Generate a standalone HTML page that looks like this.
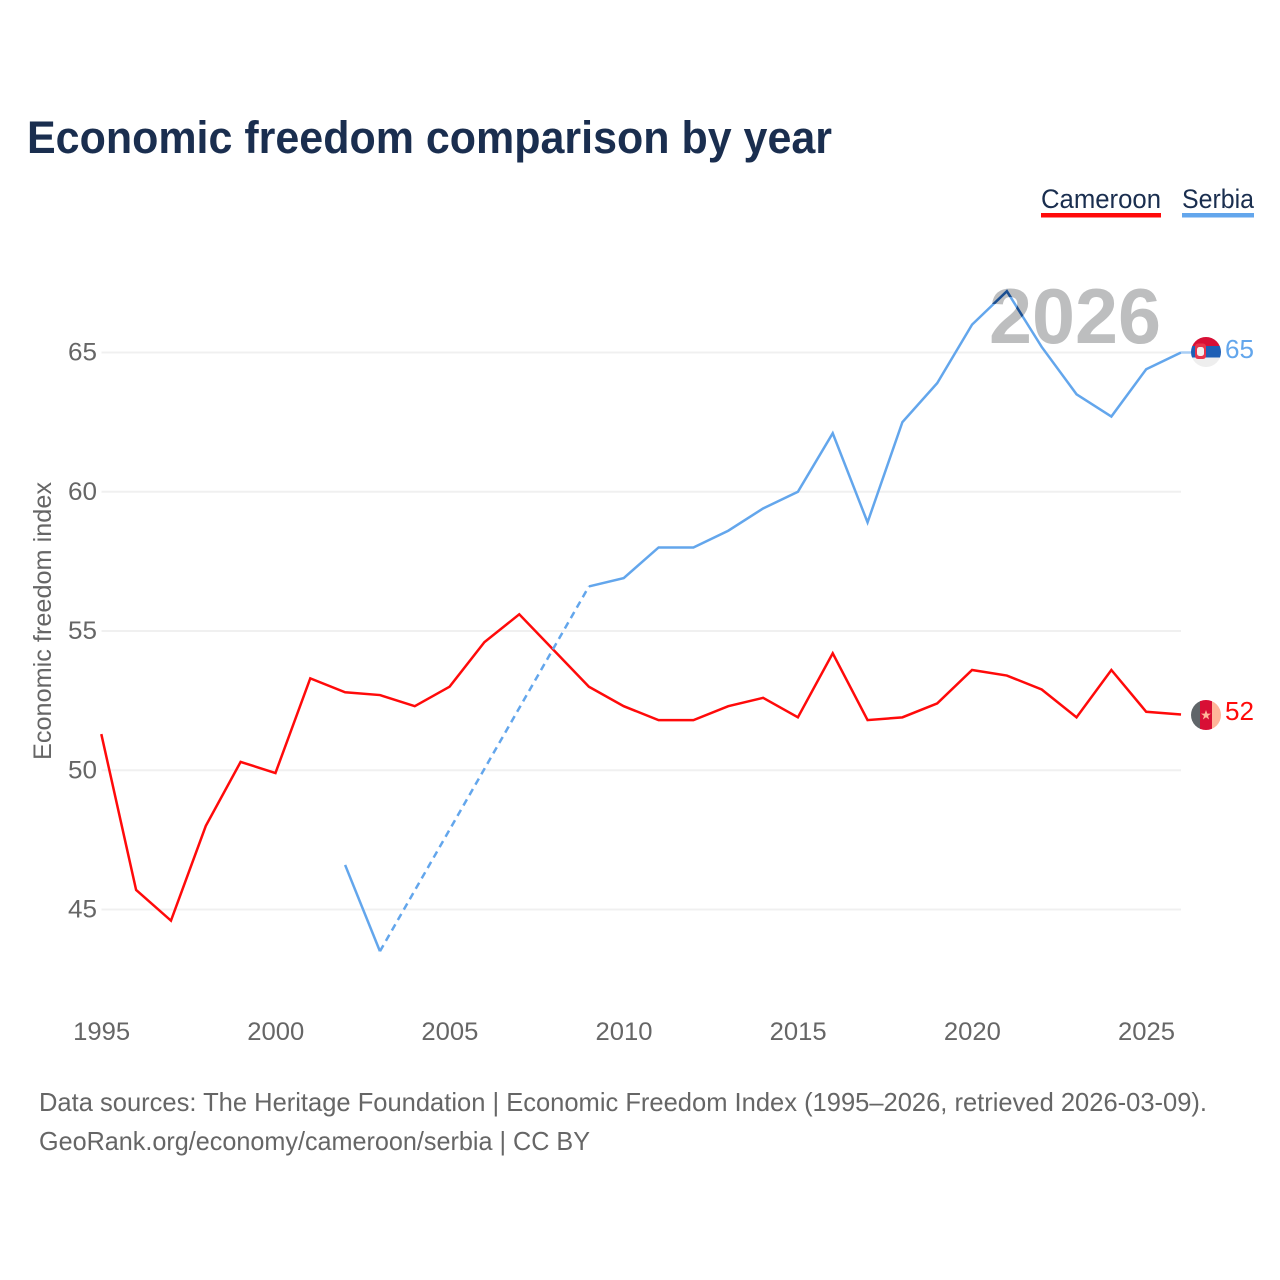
<!DOCTYPE html>
<html lang="en">
<head>
<meta charset="utf-8">
<title>Economic freedom comparison by year</title>
<style>
html,body{margin:0;padding:0;background:#fff;width:1280px;height:1280px;overflow:hidden}
svg{display:block}
text{font-family:"Liberation Sans",sans-serif}
</style>
</head>
<body>
<svg id="chart" xmlns="http://www.w3.org/2000/svg" width="1280" height="1280" viewBox="0 0 1280 1280">
  <defs>
    <clipPath id="serbia-flag-clip"><circle cx="1206" cy="352" r="15"/></clipPath>
    <clipPath id="cameroon-flag-clip"><circle cx="1206" cy="715" r="15"/></clipPath>
    <clipPath id="year-text-clip"><text x="989" y="343" font-size="78" font-weight="700" textLength="172" lengthAdjust="spacingAndGlyphs">2026</text></clipPath>
  </defs>
  <rect x="0" y="0" width="1280" height="1280" fill="#ffffff"/>
  <text x="27" y="153" font-size="45" font-weight="700" fill="#1a2e4f" textLength="805" lengthAdjust="spacingAndGlyphs">Economic freedom comparison by year</text>

  <g>
    <g>
      <text x="1041" y="208" font-size="27" fill="#1a2e4f" textLength="120" lengthAdjust="spacingAndGlyphs">Cameroon</text>
      <rect x="1041" y="213" width="120" height="4.5" fill="#ff0a0a"/>
    </g>
    <g>
      <text x="1182" y="208" font-size="27" fill="#1a2e4f" textLength="72" lengthAdjust="spacingAndGlyphs">Serbia</text>
      <rect x="1182" y="213" width="72" height="4.5" fill="#63a6ec"/>
    </g>
  </g>

  <g id="grid"></g>
  <g id="y-ticks"></g>
  <g id="x-ticks"></g>

  <text transform="translate(51,621) rotate(-90)" text-anchor="middle" font-size="25" fill="#666666" textLength="278" lengthAdjust="spacingAndGlyphs">Economic freedom index</text>

  <text x="989" y="343" font-size="78" font-weight="700" fill="#bdbebf" textLength="172" lengthAdjust="spacingAndGlyphs">2026</text>

  <g id="series"></g>

  <g clip-path="url(#serbia-flag-clip)">
    <rect x="1191" y="337" width="30" height="30" fill="#eeeeee"/>
    <rect x="1191" y="337" width="30" height="9" fill="#d80f35"/>
    <rect x="1191" y="346" width="30" height="11.5" fill="#1e5fb5"/>
    <rect x="1195" y="343.5" width="11" height="15.5" rx="3" fill="#e8344a"/>
    <rect x="1197" y="347" width="7" height="9" rx="2.5" fill="#f4f0ee"/>
  </g>
  <g clip-path="url(#cameroon-flag-clip)">
    <rect x="1191" y="700" width="10" height="30" fill="#5f6569"/>
    <rect x="1200" y="700" width="12" height="30" fill="#d80f35"/>
    <rect x="1212" y="700" width="9" height="30" fill="#ffb59a"/>
    <polygon points="1206,710 1207.3,713.6 1211,713.6 1208,715.9 1209.1,719.5 1206,717.3 1202.9,719.5 1204,715.9 1201,713.6 1204.7,713.6" fill="#ffb59a"/>
  </g>

  <text x="1225" y="358" font-size="26" fill="#63a6ec" textLength="29" lengthAdjust="spacingAndGlyphs">65</text>
  <text x="1225" y="720" font-size="26" fill="#ff0a0a" textLength="29" lengthAdjust="spacingAndGlyphs">52</text>

  <text x="39" y="1111" font-size="26" fill="#666666" textLength="1168" lengthAdjust="spacingAndGlyphs">Data sources: The Heritage Foundation | Economic Freedom Index (1995–2026, retrieved 2026-03-09).</text>
  <text x="39" y="1150" font-size="26" fill="#666666" textLength="551" lengthAdjust="spacingAndGlyphs">GeoRank.org/economy/cameroon/serbia | CC BY</text>
</svg>
<script>
const years = [1995,1996,1997,1998,1999,2000,2001,2002,2003,2004,2005,2006,2007,2008,2009,2010,2011,2012,2013,2014,2015,2016,2017,2018,2019,2020,2021,2022,2023,2024,2025,2026];
const cameroonValues = [51.3,45.7,44.6,48.0,50.3,49.9,53.3,52.8,52.7,52.3,53.0,54.6,55.6,54.3,53.0,52.3,51.8,51.8,52.3,52.6,51.9,54.2,51.8,51.9,52.4,53.6,53.4,52.9,51.9,53.6,52.1,52.0];
const serbiaValues = [null,null,null,null,null,null,null,46.6,43.5,null,null,null,null,null,56.6,56.9,58.0,58.0,58.6,59.4,60.0,62.1,58.9,62.5,63.9,66.0,67.2,65.2,63.5,62.7,64.4,65.0];
const yTickValues = [45,50,55,60,65];
const xTickValues = [1995,2000,2005,2010,2015,2020,2025];

const NS = 'http://www.w3.org/2000/svg';
function xScale(year){ return 101.3 + (year - 1995) * 34.83; }
function yScale(value){ return 909.5 - (value - 45) * 27.85; }
function make(tag, attrs, parent){
  const node = document.createElementNS(NS, tag);
  for (const key in attrs) node.setAttribute(key, attrs[key]);
  parent.appendChild(node);
  return node;
}
function pointsFor(values, from, to){
  const out = [];
  for (let i = from; i <= to; i++) {
    if (values[i] !== null) out.push(xScale(years[i]).toFixed(2) + ',' + yScale(values[i]).toFixed(2));
  }
  return out.join(' ');
}
/* Split a series into runs of consecutive values and the gaps bridging them */
function segments(values){
  const solid = [], gaps = [];
  let start = -1, lastEnd = -1;
  for (let i = 0; i <= values.length; i++) {
    const has = i < values.length && values[i] !== null;
    if (has && start < 0) {
      start = i;
      if (lastEnd >= 0) gaps.push([lastEnd, i]);
    }
    if (!has && start >= 0) {
      solid.push([start, i - 1]);
      lastEnd = i - 1;
      start = -1;
    }
  }
  return {solid, gaps};
}

const grid = document.getElementById('grid');
const yTicks = document.getElementById('y-ticks');
const xTicks = document.getElementById('x-ticks');
const seriesGroup = document.getElementById('series');

yTickValues.forEach(function(v){
  const line = make('line', {x1:101.5, x2:1181, y1:yScale(v), y2:yScale(v), stroke:'#f0f0f0', 'stroke-width':2}, grid);
  
  
  const label = make('text', {x:97, y:yScale(v) + 8, 'text-anchor':'end', 'font-size':25, fill:'#666666', textLength:29, lengthAdjust:'spacingAndGlyphs'}, yTicks);
  label.textContent = String(v);
  
  
});

xTickValues.forEach(function(y){
  const label = make('text', {x:xScale(y) + 0.3, y:1040, 'text-anchor':'middle', 'font-size':25, fill:'#666666', textLength:57, lengthAdjust:'spacingAndGlyphs'}, xTicks);
  label.textContent = String(y);
  
  
});

function drawSeries(name, values, color){
  const parts = segments(values);
  parts.solid.forEach(function(run, idx){
    const line = make('polyline', {points:pointsFor(values, run[0], run[1]), fill:'none', stroke:color, 'stroke-width':2.5, 'stroke-linejoin':'miter'}, seriesGroup);
    
    
  });
  parts.gaps.forEach(function(gap, idx){
    const line = make('line', {x1:xScale(years[gap[0]]), y1:yScale(values[gap[0]]), x2:xScale(years[gap[1]]), y2:yScale(values[gap[1]]), stroke:color, 'stroke-width':2.5, 'stroke-dasharray':'7 5'}, seriesGroup);
    
    
  });
}
drawSeries('cameroon', cameroonValues, '#ff0a0a');
drawSeries('serbia', serbiaValues, '#63a6ec');

/* Darker overlap where the Serbia line passes behind the year watermark */
const overlap = make('polyline', {points:pointsFor(serbiaValues, 14, 31), fill:'none', stroke:'#1d4f90', 'stroke-width':2.5, 'clip-path':'url(#year-text-clip)'}, seriesGroup);



/* Faint connector from the last point to the flag */
const lastIndex = years.length - 1;
const serbiaStub = make('line', {x1:xScale(years[lastIndex]), x2:1192, y1:yScale(serbiaValues[lastIndex]), y2:yScale(serbiaValues[lastIndex]), stroke:'#a9cdf4', 'stroke-width':2.5}, seriesGroup);


</script>
</body>
</html>
